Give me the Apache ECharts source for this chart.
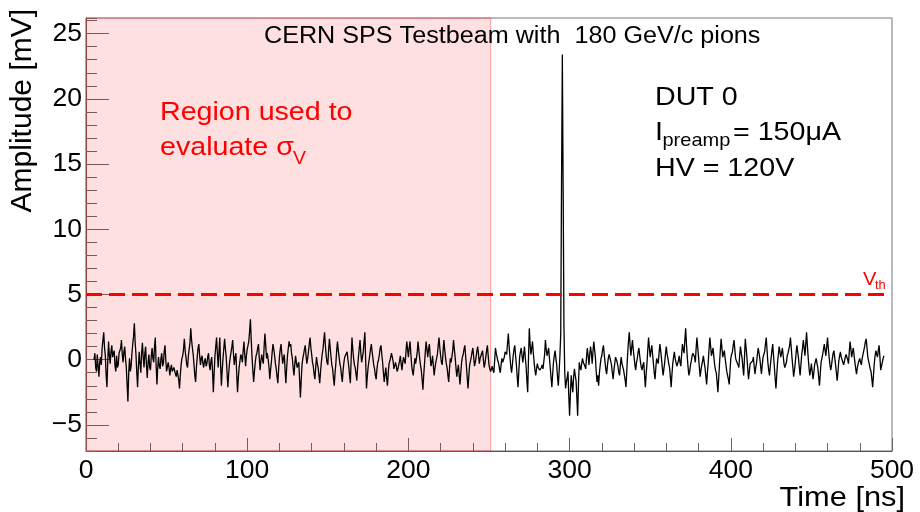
<!DOCTYPE html>
<html>
<head>
<meta charset="utf-8">
<script src="https://cdn.jsdelivr.net/npm/echarts@6/dist/echarts.min.js"></script>
<style>
  html, body { margin: 0; padding: 0; background: #fff; }
  #chart { width: 920px; height: 512px; }
</style>
</head>
<body>
<div id="chart"></div>
<script>
// waveform: one sample per ns from 5 ns (amplitudeMv)
// plus the samples in between, at 5.5, 6.5, ... ns (amplitudeMvHalf)
const timeStartNs = 5;
const timeStepNs = 1;
const amplitudeMv = [
  0.0, -0.6, 0.4, -1.3, 0.2, 0.9, 2.1, 0.3, -2.1, 1.4,
  -0.3, 1.1, 0.2, -0.5, 0.3, -0.4, 0.4, 1.5, -0.2, 1.0,
  -0.6, -3.2, 0.1, -0.5, 1.2, 2.8, 0.4, -2.1, 0.6, -1.0,
  1.3, -0.6, 1.0, -1.4, 0.4, -0.8, 0.9, -0.2, 1.7, -1.9,
  0.2, -0.7, 0.5, -0.3, 1.1, -0.9, -0.2, -1.2, -0.4, -1.0,
  -0.5, -1.3, -0.7, -2.2, -0.4, 0.3, 1.6, 0.2, -0.6, 0.8,
  2.4, 0.9, -0.4, -1.7, 0.2, 1.2, -0.4, 0.3, -0.6, 0.1,
  -0.3, 0.5, -0.8, 0.2, -2.5, 0.3, 1.7, -0.6, 1.7, -2.0,
  0.1, 1.6, 0.2, -2.1, -0.3, 0.6, 1.5, -0.4, 0.5, -2.5,
  -0.6, 0.4, -0.2, 1.4, -0.5, 0.8, 1.4, 3.1, 0.2, -1.7,
  -0.2, 0.5, 1.2, -0.8, 0.4, -0.3, 2.0, 0.1, 0.6, -1.5,
  -0.2, 1.2, 0.3, -0.7, -1.8, 0.2, 1.2, -0.3, 0.4, -1.8,
  0.3, 1.4, 1.2, 0.1, -1.2, 0.3, -0.6, -0.2, -2.9, -0.4,
  0.4, 1.1, -0.3, 0.6, 1.7, 0.4, -0.5, -1.5, 0.2, -0.6,
  -1.8, -0.2, 0.8, 2.1, 0.3, -0.4, 1.6, 0.2, -0.7, -2.0,
  -0.3, 1.4, 0.2, -0.6, -1.7, -0.2, 0.3, 0.6, -0.5, -1.8,
  1.7, 0.1, -0.6, -1.6, 0.2, 1.5, -0.2, 0.6, 2.1, -2.2,
  -0.6, 0.3, 1.2, 0.1, -0.7, -1.5, -0.2, 0.4, 1.1, -0.2,
  -1.7, -0.6, -2.0, -0.3, 0.2, 0.6, -0.7, -0.2, -0.9, -0.4,
  0.3, -0.8, 0.2, -0.3, 1.4, 0.2, 1.4, -0.4, -1.2, 0.1,
  -0.4, 1.4, 0.1, -0.8, -2.3, -0.3, 1.4, 0.2, 1.2, -0.5,
  0.3, -1.2, -0.2, 0.4, 1.7, 0.3, -0.4, 1.5, 0.2, -0.6,
  -1.7, 0.1, -0.3, 1.5, 0.2, -1.3, -0.4, -1.9, -0.2, 0.4,
  1.1, -0.5, -2.2, -0.4, 0.2, 0.9, -0.5, 0.2, 1.0, -0.3,
  0.3, 0.7, -0.6, 0.2, 1.1, -0.4, -0.9, -0.5, -1.0, 0.9,
  0.2, -0.3, -1.0, 0.1, -0.3, 0.6, 0.4, 2.0, 0.2, -1.0,
  0.3, 1.1, -0.4, -2.1, 0.2, 0.9, -0.2, 1.0, -0.5, -2.5,
  2.4, 0.4, 1.4, -0.2, -1.2, -0.3, -0.5, -0.9, -0.4, -0.8,
  1.5, 0.3, 0.9, -0.6, -2.1, -0.2, 0.7, -0.4, -2.0, 0.3,
  13.6, 13.0, -1.0, -1.7, -0.9, -4.3, -1.2, -2.5, -0.7, -1.6,
  -4.3, -0.2, -0.8, 0.1, -0.3, -0.7, 0.9, -0.4, 1.0, -0.3,
  1.4, 0.2, -1.7, -2.0, -0.4, 0.3, 1.1, -0.2, -1.1, 0.1,
  0.5, -0.4, -1.5, -0.3, 0.3, -0.5, -1.2, 0.2, -0.4, -0.9,
  -2.1, 0.4, 2.1, 0.3, 1.5, 0.2, -0.8, 0.1, 0.9, -0.2,
  -0.8, -0.2, -2.1, -0.3, 1.7, 0.2, 1.1, -0.3, -1.5, 0.1,
  -0.3, 1.2, 0.1, -1.2, -0.2, 1.0, 0.1, -0.6, -2.1, -0.3,
  0.6, -0.2, -0.4, 0.3, -0.5, 1.2, 0.5, 2.4, 0.2, -1.2,
  -0.4, 0.3, 0.6, -0.2, 1.7, 0.2, -1.3, -0.4, 0.3, -0.6,
  -1.9, -0.2, 1.7, 0.3, 0.9, -0.4, -1.0, -2.5, -0.3, 1.6,
  0.2, 0.7, -0.4, -1.2, -1.9, 0.1, 0.6, 1.5, 0.1, -0.2,
  -0.6, 1.0, 0.1, -1.2, 1.6, 0.2, -1.5, -0.3, -0.4, 0.2,
  -1.1, -0.2, 0.9, 0.1, -1.1, 0.2, 0.6, 1.7, -0.2, -1.2,
  0.1, 1.2, -0.5, -2.2, -0.2, 1.0, 0.2, 0.9, -0.3, -0.7,
  0.3, 0.6, 1.7, 0.1, -1.3, -0.2, 1.1, 0.1, -1.2, 0.4,
  1.5, 0.3, 2.1, 0.2, -1.2, -0.3, -1.5, -0.4, 0.1, -0.6,
  -2.0, -0.2, 0.4, 1.2, 0.3, 1.7, 0.2, -0.8, 0.1, 0.7,
  -0.4, -1.6, -0.1, 0.6, 0.1, -0.4, 0.2, 0.5, -0.3, 1.4,
  0.2, 0.9, -0.2, -1.1, -0.3, 0.1, -0.4, 0.4, 1.0, 1.6,
  0.2, -0.4, -0.9, -2.1, -0.3, 0.7, 0.2, 1.1, -0.8, -0.2,
  0.3
];
const amplitudeMvHalf = [
  0.5, -0.9, -0.5, -0.2, -0.4, 1.5, 0.9, -1.2, -0.1, 0.3,
  0.6, 0.2, 0.7, -0.9, -0.6, 0.5, 0.9, 0.4, 0.6, 0.1,
  -1.9, -1.0, -0.9, 0.5, 1.8, 1.3, -1.0, -0.5, -0.3, 0.5,
  0.2, 0.5, -0.4, -0.2, -0.6, 0.3, 0.1, 1.0, -0.4, -0.6,
  -0.5, 0.1, -0.5, 0.6, 0.0, -0.8, -0.6, -0.7, -0.9, -0.6,
  -1.1, -0.8, -1.5, -1.2, 0.1, 0.8, 0.7, -0.4, 0.3, 1.3,
  1.5, 0.4, -1.2, -0.6, 0.9, 0.3, 0.1, -0.3, -0.1, -0.5,
  0.2, -0.4, -0.1, -0.9, -1.0, 1.0, 0.5, 0.6, -0.4, -0.8,
  0.9, 0.8, -1.0, -1.1, 0.2, 1.0, 0.4, 0.2, -1.1, -1.4,
  -0.1, 0.2, 0.7, 0.4, 0.3, 0.9, 2.2, 1.5, -0.8, -0.9,
  0.3, 0.9, 0.1, -0.1, 0.0, 1.0, 1.1, 0.5, -0.5, -0.8,
  0.6, 0.8, -0.3, -1.3, -0.7, 0.8, 0.4, 0.1, -0.8, -0.6,
  0.9, 1.0, 0.5, -0.6, -0.4, -0.2, -0.5, -1.5, -1.6, 0.1,
  0.8, 0.3, 0.1, 1.2, 0.9, -0.2, -1.1, -0.6, -0.3, -1.2,
  -0.9, 0.4, 1.5, 1.1, -0.2, 0.7, 0.9, -0.4, -1.4, -1.0,
  0.7, 0.7, -0.3, -1.2, -0.8, 0.2, 0.3, 0.0, -1.2, 0.1,
  0.8, -0.4, -1.1, -0.6, 0.9, 0.5, 0.2, 1.4, -0.1, -1.3,
  -0.1, 0.8, 0.6, -0.4, -1.2, -0.7, 0.0, 0.9, 0.4, -1.0,
  -1.1, -1.4, -1.0, -0.1, 0.5, -0.1, -0.6, -0.5, -0.7, -0.1,
  -0.3, -0.2, -0.1, 0.6, 0.8, 0.9, 0.5, -0.9, -0.5, -0.3,
  0.6, 0.7, -0.4, -1.5, -1.2, 0.6, 0.8, 0.8, 0.3, -0.2,
  -0.5, -0.6, 0.1, 1.1, 0.9, -0.2, 0.6, 0.8, -0.3, -1.2,
  -0.7, -0.2, 0.7, 0.8, -0.6, -0.8, -1.2, -1.0, 0.2, 0.8,
  0.3, -1.4, -1.2, -0.1, 0.6, 0.2, -0.2, 0.7, 0.4, 0.1,
  0.5, 0.0, -0.3, 0.7, 0.3, -0.7, -0.8, -0.8, -0.1, 0.5,
  -0.1, -0.7, -0.4, -0.2, 0.2, 0.5, 1.3, 1.0, -0.5, -0.4,
  0.8, 0.3, -1.3, -0.9, 0.6, 0.3, 0.4, 0.2, -1.6, 0.1,
  1.2, 0.9, 0.5, -0.8, -0.7, -0.6, -0.8, -0.6, -0.7, 0.4,
  0.8, 0.6, 0.1, -1.4, -1.1, 0.3, 0.1, -1.3, -0.9, 2.0,
  23.4, 2.5, -2.2, -1.4, -2.8, -2.6, -1.9, -1.3, -1.2, -2.9,
  -1.9, -0.6, -0.3, -0.2, -0.5, 0.2, 0.3, 0.4, 0.5, 0.6,
  0.8, -0.9, -1.2, -1.0, 0.1, 0.8, 0.4, -0.8, -0.4, 0.4,
  -0.1, -1.0, -0.8, 0.2, -0.2, -1.0, -0.4, -0.3, -0.8, -1.6,
  -0.8, 1.4, 1.2, 0.9, 0.8, -0.4, -0.2, 0.6, 0.3, -0.6,
  -0.4, -1.2, -1.1, 0.8, 0.9, 0.7, 0.4, -1.0, -0.6, 0.0,
  0.5, 0.7, -0.6, -0.7, 0.5, 0.4, -0.3, -1.3, -1.1, 0.2,
  0.1, -0.5, -0.1, -0.2, 0.4, 0.8, 1.5, 1.2, -0.6, -0.9,
  -0.1, 0.5, 0.2, 0.9, 0.9, -0.6, -0.8, -0.1, -0.2, -1.2,
  -1.0, 0.8, 1.0, 0.6, 0.2, -0.8, -1.7, -1.4, 0.7, 0.9,
  0.5, 0.1, -0.9, -1.5, -0.9, 0.4, 1.1, 0.8, -0.1, -0.4,
  0.3, 0.5, -0.6, 0.2, 0.9, -0.7, -0.9, -0.4, -0.1, -0.5,
  -0.6, 0.4, 0.5, -0.5, -0.4, 0.4, 1.2, 0.7, -0.8, -0.5,
  0.7, 0.3, -1.4, -1.2, 0.4, 0.6, 0.5, 0.3, -0.6, -0.2,
  0.5, 1.1, 0.9, -0.6, -0.8, 0.5, 0.6, -0.6, -0.4, 0.9,
  0.9, 1.2, 1.1, -0.6, -0.8, -0.9, -1.0, -0.1, -0.3, -1.3,
  -1.1, 0.1, 0.8, 0.7, 1.0, 0.9, -0.4, -0.4, 0.5, 0.1,
  -1.0, -0.9, 0.3, 0.2, -0.2, -0.1, 0.4, 0.0, 0.6, 0.8,
  0.6, 0.3, -0.7, -0.6, -0.1, -0.2, 0.1, 0.7, 1.4, 0.9,
  -0.1, -0.7, -1.5, -1.2, 0.3, 0.4, 0.7, 0.2, -0.5, 0.1
];

const timeRangeNs = [0, 500];
const amplitudeRangeMv = [-7, 26.2];
const sigmaRegionNs = [0, 251];
const thresholdMv = 5;
const thresholdEndNs = 497;

const titleText = 'CERN SPS Testbeam with  180 GeV/c pions';
const regionLines = ['Region used to', 'evaluate σ'];
const dutLines = ['DUT 0', 'I', 'preamp', '= 150μA', 'HV = 120V'];

const FONT = '"Liberation Sans", Arial, sans-serif';
const STRETCH = 1.08;

function label(x, y, text, size, color, extra) {
  return Object.assign({
    type: 'text',
    x: x,
    y: y,
    scaleX: STRETCH,
    z: 100,
    silent: true,
    style: {
      text: text,
      font: size + 'px ' + FONT,
      fill: color || '#000',
      align: 'left',
      verticalAlign: 'middle',
    },
  }, extra || {});
}

const waveform = [];
amplitudeMv.forEach((v, i) => {
  const t = timeStartNs + i * timeStepNs;
  waveform.push([t, v]);
  if (i < amplitudeMvHalf.length) waveform.push([t + timeStepNs / 2, amplitudeMvHalf[i]]);
});

const chart = echarts.init(document.getElementById('chart'), null, { renderer: 'canvas' });

chart.setOption({
  animation: false,
  backgroundColor: '#fff',
  grid: {
    left: 86,
    top: 18,
    right: 28,
    bottom: 61,
    show: true,
    borderColor: '#777',
    borderWidth: 1,
    backgroundColor: 'transparent',
  },
  xAxis: {
    type: 'value',
    min: timeRangeNs[0],
    max: timeRangeNs[1],
    interval: 100,
    axisLine: { onZero: false, lineStyle: { color: '#555', width: 1 } },
    axisTick: { inside: true, length: 13, lineStyle: { color: '#666' } },
    minorTick: { show: true, splitNumber: 5, length: 8, lineStyle: { color: '#666' } },
    splitLine: { show: false },
    axisLabel: {
      color: '#000',
      fontSize: 26.5,
      fontFamily: FONT,
      margin: 6,
      showMaxLabel: true,
    },
  },
  yAxis: [
    {
      type: 'value',
      min: amplitudeRangeMv[0],
      max: amplitudeRangeMv[1],
      minInterval: 5,
      maxInterval: 5,
      axisLine: { show: true, onZero: false, lineStyle: { color: '#555', width: 1 } },
      axisTick: { inside: true, length: 23, lineStyle: { color: '#666' } },
      splitLine: { show: false },
      axisLabel: {
        color: '#000',
        fontSize: 26.5,
        fontFamily: FONT,
        margin: 4,
        showMinLabel: false,
        showMaxLabel: false,
        formatter: (v) => String(v).replace('-', '\u2212'),
      },
    },
    {
      type: 'value',
      min: amplitudeRangeMv[0],
      max: amplitudeRangeMv[1],
      interval: 1,
      position: 'left',
      axisLine: { show: false },
      axisTick: { inside: true, length: 11, lineStyle: { color: '#666' } },
      splitLine: { show: false },
      axisLabel: { show: false },
    },
  ],
  series: [
    {
      name: 'waveform',
      type: 'line',
      yAxisIndex: 0,
      data: waveform,
      showSymbol: false,
      symbol: 'none',
      lineStyle: { color: '#000', width: 1.3 },
      z: 3,
    },
    {
      name: 'threshold',
      type: 'line',
      yAxisIndex: 0,
      data: [],
      z: 2,
      markLine: {
        silent: true,
        symbol: 'none',
        label: { show: false },
        lineStyle: { color: '#ff0000', width: 3, type: [16, 7] },
        data: [[
          { coord: [timeRangeNs[0], thresholdMv] },
          { coord: [thresholdEndNs, thresholdMv] },
        ]],
      },
    },
    {
      name: 'sigma region',
      type: 'line',
      yAxisIndex: 0,
      data: [],
      z: 10,
      markArea: {
        silent: true,
        itemStyle: {
          color: 'rgba(255,0,0,0.12)',
          borderColor: 'rgba(255,60,60,0.45)',
          borderWidth: 1,
        },
        data: [[{ xAxis: sigmaRegionNs[0] }, { xAxis: sigmaRegionNs[1] }]],
      },
    },
  ],
  graphic: {
    elements: [
      label(264, 37, titleText, 23.3),
      label(160, 112.5, regionLines[0], 26.5, '#ff0000'),
      label(160, 147.5, regionLines[1], 26.5, '#ff0000'),
      label(293, 159, 'V', 18, '#ff0000'),
      label(655, 97.5, dutLines[0], 26.5),
      label(655, 133, dutLines[1], 26.5),
      label(662.5, 140.5, dutLines[2], 18.5),
      label(733, 133, dutLines[3], 26.5),
      label(655, 168.3, dutLines[4], 26.5),
      label(863, 279.5, 'V', 18.5, '#ff0000'),
      label(875, 286, 'th', 12, '#ff0000'),
      label(905, 498, 'Time [ns]', 28.5, '#000', {
        style: { text: 'Time [ns]', font: '28.5px ' + FONT, fill: '#000', align: 'right', verticalAlign: 'middle' },
      }),
      label(23, 9, 'Amplitude [mV]', 30, '#000', {
        rotation: Math.PI / 2,
        scaleX: 1,
        style: { text: 'Amplitude [mV]', font: '30px ' + FONT, fill: '#000', align: 'right', verticalAlign: 'middle' },
      }),
    ],
  },
});
</script>
</body>
</html>
